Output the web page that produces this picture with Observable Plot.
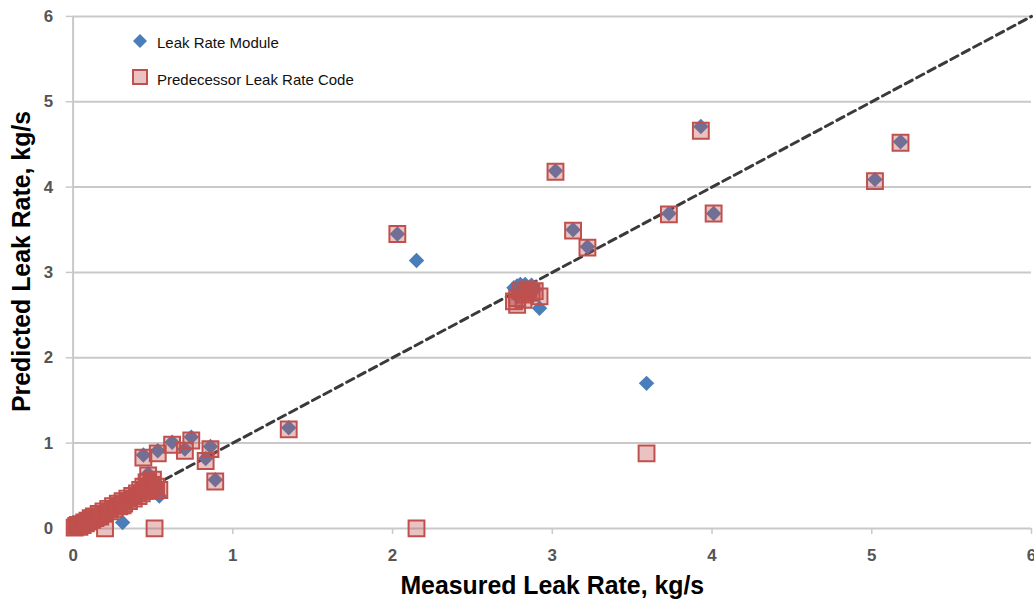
<!DOCTYPE html>
<html>
<head>
<meta charset="utf-8">
<script src="https://cdn.jsdelivr.net/npm/d3@7"></script>
<script src="https://cdn.jsdelivr.net/npm/@observablehq/plot@0.6"></script>
<style>
  html, body { margin: 0; padding: 0; background: #fff; overflow: hidden; }
  #wrap { position: relative; width: 1034px; height: 611px; overflow: hidden; }
  #legend { position: absolute; left: 130px; top: 30px; font-family: Arial, "Liberation Sans", sans-serif; font-size: 15px; color: #111; }
  #legend .row { position: absolute; left: 0; white-space: nowrap; height: 20px; line-height: 20px; }
  #legend svg { position: absolute; left: 0; top: 0; }
  #legend span { position: absolute; left: 27px; top: 2px; }
</style>
</head>
<body>
<div id="wrap"></div>
<script>
// Measured leak rate (kg/s)
const measured = [
  0.01,0.02,0.03,0.04,0.05,0.06,0.07,0.08,0.09,0.10,0.11,0.12,0.13,0.14,0.16,0.17,0.19,0.20,0.22,0.23,
  0.25,0.26,0.28,0.29,0.31,0.32,0.34,0.35,0.37,0.38,0.40,0.41,0.42,0.43,0.44,0.45,0.46,0.47,0.48,0.49,
  0.50,0.51,0.52,0.54,
  0.20,0.31,0.51,
  0.44,0.53,0.62,0.74,0.70,0.86,0.83,0.89,1.35,
  2.76,2.78,2.80,2.83,2.85,2.87,2.89,2.92,2.78,2.82,
  2.03,2.15,3.02,3.13,3.22,3.59,3.73,3.93,4.01,5.02,5.18
];
// Predicted by the Leak Rate Module (kg/s)
const moduleRate = [
  0.02,0.01,0.05,0.02,0.06,0.03,0.08,0.05,0.10,0.07,0.13,0.09,0.15,0.11,0.18,0.13,0.21,0.16,0.24,0.19,
  0.27,0.22,0.30,0.25,0.33,0.29,0.36,0.32,0.39,0.35,0.42,0.38,0.46,0.41,0.50,0.44,0.55,0.64,0.47,0.52,
  0.58,0.45,0.50,0.38,
  0.12,0.07,0.47,
  0.86,0.91,1.01,1.07,0.93,0.96,0.82,0.57,1.18,
  2.82,2.72,2.86,2.86,2.78,2.85,2.80,2.58,2.84,2.75,
  3.45,3.14,4.19,3.50,3.30,1.70,3.69,4.71,3.69,4.09,4.53
];
// Predicted by the predecessor leak rate code (kg/s)
const predecessorRate = [
  0.01,0.03,0.04,0.02,0.05,0.04,0.07,0.06,0.09,0.08,0.12,0.10,0.14,0.12,0.17,0.14,0.20,0.17,0.23,0.20,
  0.26,0.23,0.29,0.26,0.32,0.29,0.35,0.32,0.38,0.35,0.41,0.38,0.45,0.41,0.49,0.44,0.54,0.62,0.47,0.51,
  0.57,0.44,0.49,0.45,
  0.00,0.27,0.00,
  0.83,0.88,0.98,1.03,0.91,0.93,0.79,0.55,1.16,
  2.66,2.62,2.78,2.74,2.80,2.76,2.78,2.72,2.70,2.68,
  3.45,0.00,4.18,3.49,3.29,0.88,3.68,4.66,3.69,4.07,4.52
];
const axisTicks = [0, 1, 2, 3, 4, 5, 6];
const gridTicks = [1, 2, 3, 4, 5, 6];
const parity = [0, 6];
const xTitle = "Measured Leak Rate, kg/s";
const yTitle = "Predicted Leak Rate, kg/s";
const seriesNames = ["Leak Rate Module", "Predecessor Leak Rate Code"];

const rows = measured.map((m, i) => ({measured: m, module: moduleRate[i], predecessor: predecessorRate[i]}));

const BLUE = "#4a7ebb";
const RED = "#c0504d";
const GRID = "#c9c9c9";

const chart = Plot.plot({
  width: 1040,
  height: 611,
  marginLeft: 73,
  marginRight: 3,
  marginTop: 16,
  marginBottom: 80,
  x: {domain: [0, 6]},
  y: {domain: [0, 6]},
  style: {fontFamily: "Arial, 'Liberation Sans', sans-serif", background: "white"},
  marks: [
    Plot.gridY(gridTicks, {stroke: GRID, strokeOpacity: 1, strokeWidth: 2}),
    Plot.ruleY([0], {stroke: GRID, strokeWidth: 2}),
    Plot.ruleX([0], {stroke: GRID, strokeWidth: 2}),
    Plot.axisX(axisTicks, {tickSize: 6, tickPadding: 15, fontSize: 17, fontWeight: "bold", fill: "#555", stroke: GRID, strokeWidth: 1.5, label: null, tickFormat: d => String(d)}),
    Plot.axisY(axisTicks, {tickSize: 7, tickPadding: 13, fontSize: 17, fontWeight: "bold", fill: "#555", stroke: GRID, strokeWidth: 1.5, label: null, tickFormat: d => String(d)}),
    Plot.line(parity, {x: d => d, y: d => d, stroke: "#3a3a3a", strokeWidth: 3, strokeDasharray: "8,5"}),
    Plot.dot(rows, {x: "measured", y: "module", symbol: "diamond2", r: 7, fill: BLUE, stroke: "none"}),
    Plot.dot(rows, {x: "measured", y: "predecessor", symbol: "square", r: 9, fill: RED, fillOpacity: 0.35, stroke: RED, strokeWidth: 2}),
    Plot.text([xTitle], {frameAnchor: "bottom", dy: 66, fontSize: 25, fontWeight: "bold", fill: "#000"}),
    Plot.text([yTitle], {frameAnchor: "left", dx: -51, dy: -11, rotate: -90, textAnchor: "middle", fontSize: 25, fontWeight: "bold", fill: "#000"})
  ]
});

const wrap = document.getElementById("wrap");
wrap.appendChild(chart);

const legend = document.createElement("div");
legend.id = "legend";
legend.innerHTML = `
  <div class="row" style="top:1px"><svg width="20" height="20"><path d="M10,3 L17,10 L10,17 L3,10 Z" fill="${BLUE}"/></svg><span>${seriesNames[0]}</span></div>
  <div class="row" style="top:38px"><svg width="20" height="20"><rect x="3" y="2" width="14" height="14" fill="${RED}" fill-opacity="0.35" stroke="${RED}" stroke-width="2"/></svg><span>${seriesNames[1]}</span></div>
`;
wrap.appendChild(legend);
</script>
</body>
</html>
